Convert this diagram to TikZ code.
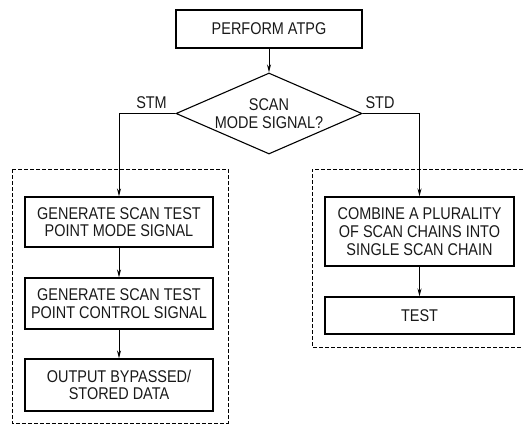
\documentclass[tikz,border=0pt]{standalone}
\usepackage{fontspec}
\setsansfont{Liberation Sans}[FakeStretch=0.85]
\usetikzlibrary{shapes.geometric,arrows.meta}
\begin{document}
\begin{tikzpicture}[
   x=1pt,y=-1pt,
   font=\sffamily\fontsize{17}{17.7}\selectfont,
   box/.style={draw,line width=1.1pt,minimum width=188pt,inner sep=0pt,align=center},
   choice/.style={draw,line width=1.1pt,diamond,aspect=2.3,minimum width=186pt,minimum height=81pt,inner sep=0pt,align=center},
   group/.style={draw,line width=0.6pt,dash pattern=on 4pt off 2pt},
   to/.style={-{Stealth[length=8pt,width=4pt]},line width=0.9pt},
   every node/.style={text=black!90}]
\useasboundingbox (0,0) rectangle (523,424);
% dashed groups
\draw[group] (12,169) rectangle (228,423);
\draw[group] (523,169) -- (312,169) -- (312,347) -- (523,347);
% steps
\node[box,minimum height=38pt,minimum width=186pt] (atpg) at (269,29) {PERFORM ATPG};
\node[choice] (mode) at (269,113.5) {SCAN\\MODE SIGNAL?};
\node[box,minimum height=50pt] (gmode) at (119,222) {GENERATE SCAN TEST\\POINT MODE SIGNAL};
\node[box,minimum height=51pt] (gctrl) at (119,303.5) {GENERATE SCAN TEST\\POINT CONTROL SIGNAL};
\node[box,minimum height=52pt] (out) at (119,385) {OUTPUT BYPASSED/\\STORED DATA};
\node[box,minimum height=69pt,minimum width=189pt] (comb) at (419.5,231.5) {COMBINE A PLURALITY\\OF SCAN CHAINS INTO\\SINGLE SCAN CHAIN};
\node[box,minimum height=37pt,minimum width=189pt] (test) at (419.5,315.5) {TEST};
\node (stm) at (151.5,103) {STM};
\node (std) at (380,103) {STD};
% flow
\draw[to] (atpg) -- (mode);
\draw[to] (mode.west) -| (gmode.north);
\draw[to] (mode.east) -| (comb.north);
\draw[to] (gmode) -- (gctrl);
\draw[to] (gctrl) -- (out);
\draw[to] (comb) -- (test);
\end{tikzpicture}
\end{document}
